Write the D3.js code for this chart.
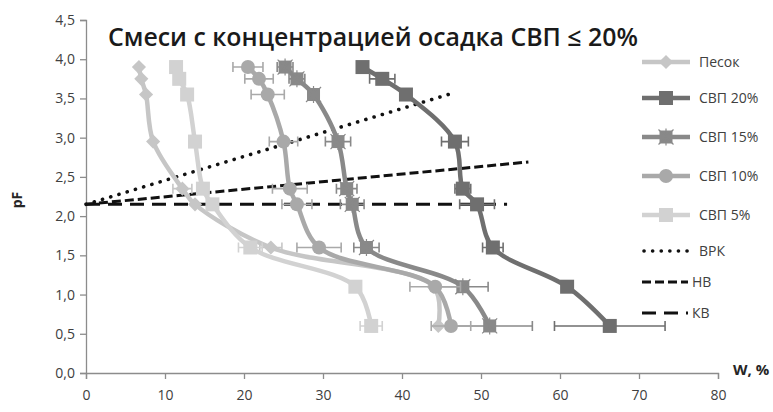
<!DOCTYPE html>
<html>
<head>
<meta charset="utf-8">
<script src="https://cdn.jsdelivr.net/npm/d3@7"></script>
<style>
  html, body { margin: 0; padding: 0; background: #fff; }
  svg { display: block; }
  text { font-family: "Open Sans", "Noto Sans", sans-serif; }
</style>
</head>
<body>
<svg id="chart" width="773" height="412"></svg>
<script>
// Moisture retention (pF) against water content W, %
const pFLevels = [3.9, 3.75, 3.55, 2.95, 2.35, 2.15, 1.6, 1.1, 0.6];

const seriesNames = ["Песок", "СВП 20%", "СВП 15%", "СВП 10%", "СВП 5%"];
const wSand  = [6.7, 7.0, 7.6, 8.5, 12.2, 13.8, 23.4, 44.0, 44.6];
const wSvp20 = [35.0, 37.5, 40.5, 46.7, 47.7, 49.5, 51.5, 60.9, 66.3];
const wSvp15 = [25.2, 26.7, 28.8, 31.9, 33.0, 33.7, 35.5, 47.7, 51.1];
const wSvp10 = [20.5, 21.9, 23.0, 25.0, 25.8, 26.7, 29.5, 44.2, 46.2];
const wSvp5  = [11.4, 11.8, 12.8, 13.8, 14.8, 16.0, 20.8, 34.1, 36.1];

// half-width of the error bars, in W %
const errSand  = [0, 0, 0, 0, 1.2, 0, 1.4, 0, 0];
const errSvp20 = [0, 1.6, 0, 1.7, 1.0, 2.2, 1.3, 0, 7.0];
const errSvp15 = [1.0, 1.0, 0, 1.6, 1.3, 1.5, 1.6, 3.2, 5.4];
const errSvp10 = [1.9, 1.8, 2.1, 1.8, 2.2, 1.9, 2.8, 3.2, 2.5];
const errSvp5  = [0, 0, 0, 0, 0, 0, 1.5, 0, 1.4];

// reference lines
const vrkW = [0, 46.5],  vrkPF = [2.15, 3.57];
const nvW  = [0, 56],    nvPF  = [2.15, 2.69];
const kvW  = [0, 53.3],  kvPF  = [2.15, 2.15];

const xTicks = [0, 10, 20, 30, 40, 50, 60, 70, 80];
const yTicks = [0, 0.5, 1, 1.5, 2, 2.5, 3, 3.5, 4, 4.5];

const svg = d3.select("#chart");
const x = d3.scaleLinear().domain([0, 80]).range([86, 718]);
const y = d3.scaleLinear().domain([0, 4.5]).range([373, 20]);
const fmt = d => d.toFixed(1).replace(".", ",");

// axes
const axisColor = "#8c8c8c";
const yAxis = svg.append("g").attr("transform", `translate(${x(0)},0)`)
  .call(d3.axisLeft(y).tickValues(yTicks).tickFormat(fmt).tickSize(6).tickPadding(5));
const xAxis = svg.append("g").attr("transform", `translate(0,${y(0)})`)
  .call(d3.axisBottom(x).tickValues(xTicks).tickFormat(d3.format("d")).tickSize(6).tickPadding(11));
[xAxis, yAxis].forEach(g => {
  g.selectAll("path, line").attr("stroke", axisColor).attr("stroke-width", 1.3);
  g.selectAll("text").attr("fill", "#404040").style("font-size", "14px");
});

svg.append("text").attr("transform", "translate(22,200) rotate(-90)")
  .attr("text-anchor", "middle").attr("fill", "#262626")
  .style("font-size", "14px").style("font-weight", 700).text("pF");
svg.append("text").attr("x", 733).attr("y", 375)
  .attr("fill", "#262626").style("font-size", "15px").style("font-weight", 700).text("W, %");

// title
svg.append("text").attr("x", 108).attr("y", 46)
  .attr("fill", "#1a1a1a").style("font-size", "25px").style("font-weight", 600)
  .attr("textLength", 530).attr("lengthAdjust", "spacingAndGlyphs")
  .text("Смеси с концентрацией осадка СВП ≤ 20%");

// reference lines
const refLines = [
  { name: "ВРК", w: vrkW, p: vrkPF, dash: "0.1 8.5", width: 3.6, cap: "round" },
  { name: "НВ",  w: nvW,  p: nvPF,  dash: "9 4",     width: 3,   cap: "butt" },
  { name: "КВ",  w: kvW,  p: kvPF,  dash: "14 8",    width: 3,   cap: "butt" }
];
refLines.forEach(r => {
  svg.append("line")
    .attr("x1", x(r.w[0])).attr("y1", y(r.p[0]))
    .attr("x2", x(r.w[1])).attr("y2", y(r.p[1]))
    .attr("stroke", "#111").attr("stroke-width", r.width)
    .attr("stroke-dasharray", r.dash).attr("stroke-linecap", r.cap);
});

// data series
const series = [
  { name: seriesNames[0], w: wSand,  e: errSand,  color: "#c6c6c6", marker: "diamond" },
  { name: seriesNames[1], w: wSvp20, e: errSvp20, color: "#6f6f6f", marker: "square" },
  { name: seriesNames[2], w: wSvp15, e: errSvp15, color: "#898989", marker: "star" },
  { name: seriesNames[3], w: wSvp10, e: errSvp10, color: "#a9a9a9", marker: "circle" },
  { name: seriesNames[4], w: wSvp5,  e: errSvp5,  color: "#d2d2d2", marker: "square" }
];

const line = d3.line().x(d => x(d.w)).y(d => y(d.p)).curve(d3.curveCatmullRom.alpha(0.5));

function drawMarker(g, type, cx, cy, color) {
  if (type === "diamond") {
    g.append("rect").attr("x", -5).attr("y", -5).attr("width", 10).attr("height", 10)
      .attr("transform", `translate(${cx},${cy}) rotate(45)`).attr("fill", color);
  } else if (type === "square") {
    g.append("rect").attr("x", cx - 7).attr("y", cy - 7).attr("width", 14).attr("height", 14).attr("fill", color);
  } else if (type === "star") {
    g.append("rect").attr("x", cx - 6.5).attr("y", cy - 6.5).attr("width", 13).attr("height", 13).attr("fill", color);
    g.append("path").attr("d", `M${cx-7.5},${cy-7.5}L${cx+7.5},${cy+7.5}M${cx+7.5},${cy-7.5}L${cx-7.5},${cy+7.5}M${cx},${cy-8.5}L${cx},${cy+8.5}`)
      .attr("stroke", color).attr("stroke-width", 1.2);
  } else if (type === "circle") {
    g.append("circle").attr("cx", cx).attr("cy", cy).attr("r", 7).attr("fill", color);
  }
}

series.forEach(s => {
  const pts = s.w.map((w, i) => ({ w, p: pFLevels[i], e: s.e[i] }));
  const g = svg.append("g");
  g.append("path").datum(pts).attr("d", line)
    .attr("fill", "none").attr("stroke", s.color).attr("stroke-width", 4.5);
  pts.filter(d => d.e > 0).forEach(d => {
    const x0 = x(d.w - d.e), x1 = x(d.w + d.e), yy = y(d.p);
    g.append("path")
      .attr("d", `M${x0},${yy}H${x1}M${x0},${yy - 5}V${yy + 5}M${x1},${yy - 5}V${yy + 5}`)
      .attr("stroke", s.color).attr("stroke-width", 1.6).attr("fill", "none");
  });
  pts.forEach(d => drawMarker(g, s.marker, x(d.w), y(d.p), s.color));
});

// legend
const legend = svg.append("g");
const legRows = [62, 98, 137, 176, 215];
series.forEach((s, i) => {
  const yy = legRows[i];
  legend.append("line").attr("x1", 642).attr("x2", 690).attr("y1", yy).attr("y2", yy)
    .attr("stroke", s.color).attr("stroke-width", 4.5);
  drawMarker(legend, s.marker, 666, yy, s.color);
  legend.append("text").attr("x", 699).attr("y", yy + 5).attr("fill", "#404040")
    .style("font-size", "14px").text(s.name);
});
const refRows = [251, 282, 313];
refLines.forEach((r, i) => {
  const yy = refRows[i];
  legend.append("line").attr("x1", i === 0 ? 644 : 642).attr("x2", i === 0 ? 690 : 688).attr("y1", yy).attr("y2", yy)
    .attr("stroke", "#111").attr("stroke-width", r.width)
    .attr("stroke-dasharray", r.dash).attr("stroke-linecap", r.cap);
  legend.append("text").attr("x", i === 0 ? 699 : 692).attr("y", yy + 5).attr("fill", "#404040")
    .style("font-size", "14px").text(r.name);
});
</script>
</body>
</html>
